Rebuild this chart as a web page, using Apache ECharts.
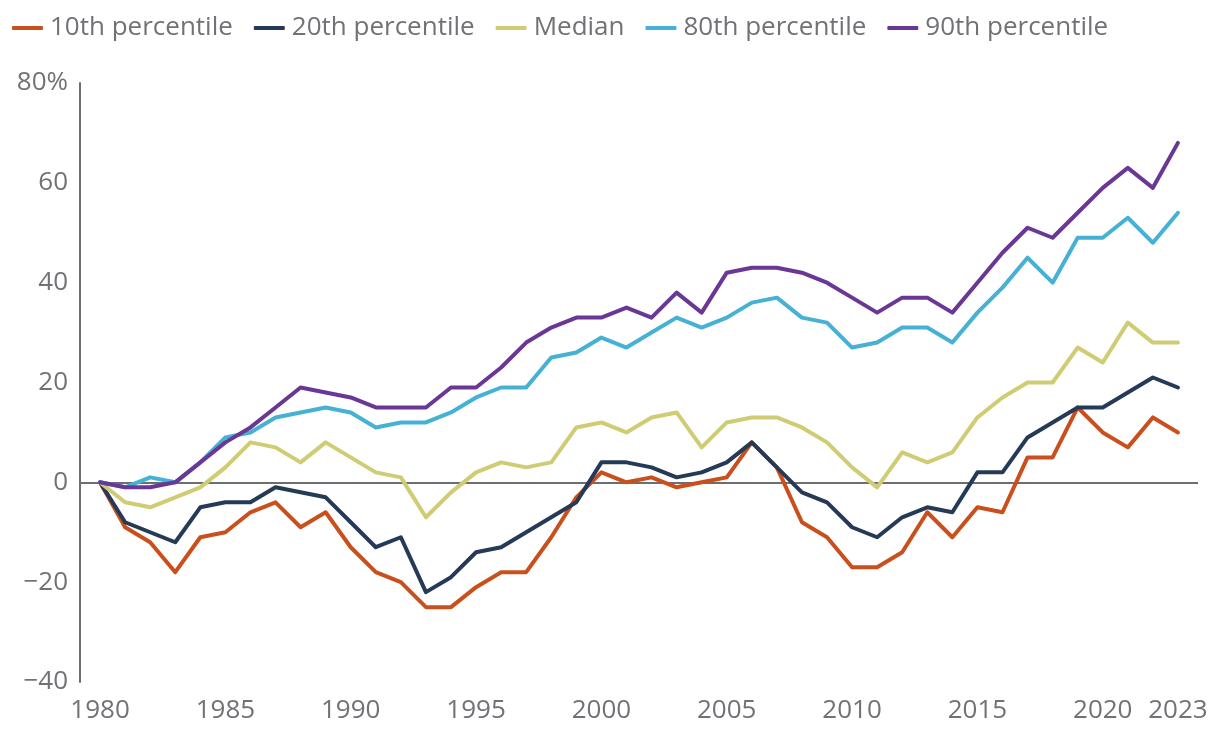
<!DOCTYPE html>
<html>
<head>
<meta charset="utf-8">
<script src="https://cdn.jsdelivr.net/npm/echarts@6/dist/echarts.min.js"></script>
<style>html,body{margin:0;padding:0;background:#fff}#c{width:1220px;height:736px}</style>
</head>
<body>
<div id="c"></div>
<script>
const years = [];
for (let y = 1980; y <= 2023; y++) years.push(y);
const xTickLabels = [1980, 1985, 1990, 1995, 2000, 2005, 2010, 2015, 2020, 2023];
const yTickValues = [-40, -20, 0, 20, 40, 60, 80];
const seriesNames = ['10th percentile', '20th percentile', 'Median', '80th percentile', '90th percentile'];
const p10 = [0,-9,-12,-18,-11,-10,-6,-4,-9,-6,-13,-18,-20,-25,-25,-21,-18,-18,-11,-3,2,0,1,-1,0,1,8,3,-8,-11,-17,-17,-14,-6,-11,-5,-6,5,5,15,10,7,13,10];
const p20 = [0,-8,-10,-12,-5,-4,-4,-1,-2,-3,-8,-13,-11,-22,-19,-14,-13,-10,-7,-4,4,4,3,1,2,4,8,3,-2,-4,-9,-11,-7,-5,-6,2,2,9,12,15,15,18,21,19];
const median = [0,-4,-5,-3,-1,3,8,7,4,8,5,2,1,-7,-2,2,4,3,4,11,12,10,13,14,7,12,13,13,11,8,3,-1,6,4,6,13,17,20,20,27,24,32,28,28];
const p80 = [0,-1,1,0,4,9,10,13,14,15,14,11,12,12,14,17,19,19,25,26,29,27,30,33,31,33,36,37,33,32,27,28,31,31,28,34,39,45,40,49,49,53,48,54];
const p90 = [0,-1,-1,0,4,8,11,15,19,18,17,15,15,15,19,19,23,28,31,33,33,35,33,38,34,42,43,43,42,40,37,34,37,37,34,40,46,51,49,54,59,63,59,68];
const colors = ['#c9501c', '#253a56', '#cfcc74', '#46b1d4', '#6a3795'];

const allSeries = [p10, p20, median, p80, p90];
const textColor = '#707276';
const font = '"Open Sans", Lato, sans-serif';

const series = allSeries.map((vals, i) => ({
  name: seriesNames[i],
  type: 'line',
  data: vals.map((v, k) => [years[k], v]),
  symbol: 'none',
  lineStyle: { width: 4, color: colors[i], cap: 'round', join: 'round' },
  itemStyle: { color: colors[i] },
  z: 3 + i,
  markLine: i === 0 ? {
    silent: true,
    symbol: 'none',
    label: { show: false },
    lineStyle: { color: '#6d6e71', width: 2, type: 'solid' },
    data: [{ yAxis: 0 }],
    z: 1
  } : undefined
}));

const chart = echarts.init(document.getElementById('c'));
chart.setOption({
  animation: false,
  backgroundColor: '#fff',
  legend: {
    top: 10,
    left: 7,
    itemWidth: 31,
    itemHeight: 4,
    itemGap: 21,
    icon: 'roundRect',
    textStyle: { color: textColor, fontSize: 26, fontFamily: font, padding: [0, 0, 0, 2] },
    data: seriesNames.map((n, i) => ({ name: n, itemStyle: { color: colors[i] } }))
  },
  grid: { left: 80, right: 22, top: 83, bottom: 54, containLabel: false },
  xAxis: {
    type: 'value',
    min: 1979.2,
    max: 2023.8,
    axisLine: { show: false },
    axisTick: { show: false },
    splitLine: { show: false },
    axisLabel: {
      customValues: xTickLabels,
      color: textColor,
      fontSize: 26,
      fontFamily: font,
      margin: 16,
      formatter: v => String(v)
    }
  },
  yAxis: {
    type: 'value',
    min: -40,
    max: 80,
    interval: 20,
    axisLine: { show: true, lineStyle: { color: '#6d6e71', width: 2 } },
    axisTick: { show: false },
    splitLine: { show: false },
    axisLabel: {
      color: textColor,
      fontSize: 26,
      fontFamily: font,
      margin: 12,
      formatter: v => v === 80 ? '80%' : (v < 0 ? '\u2212' + Math.abs(v) : String(v))
    }
  },
  series: series
});
</script>
</body>
</html>
